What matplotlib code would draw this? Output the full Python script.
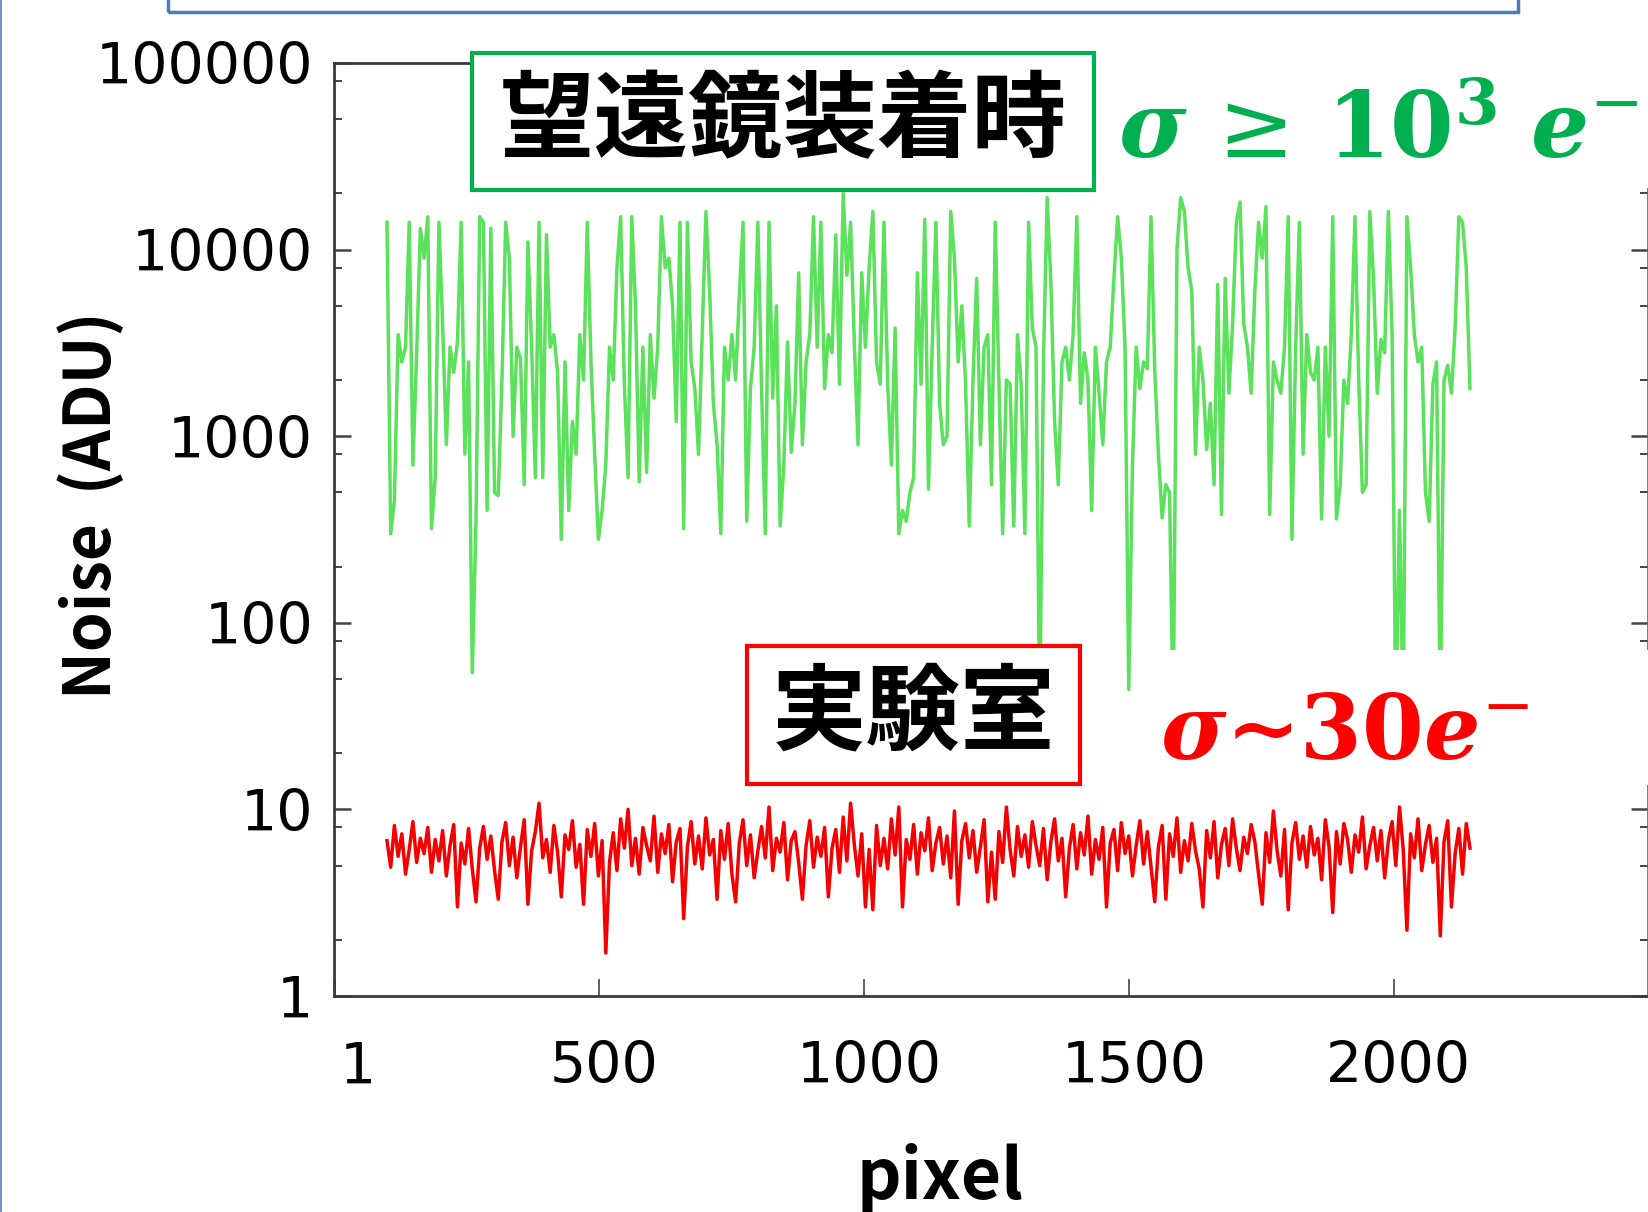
import numpy as np
import matplotlib
matplotlib.use("Agg")
import matplotlib.pyplot as plt
import matplotlib.transforms as mtransforms
from matplotlib.patches import Rectangle
from matplotlib.lines import Line2D
from matplotlib.ticker import FixedLocator, LogLocator, NullFormatter, FuncFormatter

plt.rcParams["mathtext.fontset"] = "dejavuserif"

W, H = 1649, 1212  # output size in pixels


def fx(px):
    return px / W


def fy(py):
    return 1 - py / H


# Data, one value every PIXEL_STEP pixels
PIXEL_START = 100
PIXEL_STEP = 7

telescope_noise = [
    14000, 300, 450, 3500, 2500, 3000, 14000, 700, 2800, 13000,
    9000, 15000, 320, 600, 14000, 4000, 900, 3000, 2200, 3200,
    14000, 800, 2500, 54, 350, 15000, 14000, 400, 13000, 500,
    480, 2000, 14000, 9000, 1000, 3000, 2600, 550, 11000, 3000,
    600, 14000, 600, 12000, 3000, 3500, 2200, 280, 2500, 400,
    1200, 800, 3500, 2000, 14000, 2500, 800, 280, 400,
    700, 3000, 2000, 8000, 15000, 1900, 600, 15000, 5000, 570,
    3000, 640, 3500, 1600, 3000, 15000, 8000, 9000, 5000, 1200,
    14000, 320, 14000, 2500, 1800, 800, 3500, 16000, 6000, 1500,
    900, 300, 3000, 2000, 3500, 2000, 5700, 14000, 350, 1800,
    3000, 14000, 1800, 300, 14000, 1600, 5000, 330, 700, 3200,
    820, 1500, 7500, 900, 2500, 3500, 15000, 3000, 14000, 1800,
    3500, 2800, 12000, 1900, 20000, 7300, 14000, 3200, 900, 7500,
    3000, 8000, 16000, 2500, 1900, 14000, 1900, 700, 3800, 300,
    400, 350, 500, 600, 7500, 1900, 14500, 520, 3000, 14000,
    1500, 900, 1000, 16000, 9000, 2500, 5000, 1900, 330, 2000,
    7000, 900, 3000, 3500, 550, 14000, 1900, 300, 2000, 1900,
    330, 3500, 1900, 300, 14000, 3800, 3000, 30, 2500,
    19000, 6700, 1200, 550, 2500, 3000, 2000, 3500, 15000, 1500,
    2800, 2000, 400, 3000, 1700, 900, 2500, 3000, 7000, 15000,
    9000, 3000, 44, 700, 3000, 1800, 2500, 2300, 15000, 2300,
    800, 365, 550, 500, 30, 10000, 19000, 16000, 8000, 6000,
    800, 3000, 2000, 850, 1500, 550, 6500, 380, 7000, 1700,
    4000, 14000, 18000, 4000, 3000, 1700, 6000, 14000, 9000, 17000,
    380, 2500, 2000, 1700, 3000, 15000, 280, 3000, 14000, 800,
    3500, 2200, 2000, 3000, 360, 3000, 1000, 15000, 360, 550,
    2000, 1500, 3500, 15000, 2000, 500, 550, 16000, 7000, 1700,
    3300, 2800, 16000, 3500, 30, 400, 30, 15000, 8000, 3500,
    2500, 3000, 500, 350, 1900, 2500, 30, 2000, 2400, 1700,
    3800, 15000, 14000, 8000, 1800,
]

lab_noise = [
    6.8, 4.9, 8.2, 5.6, 7.4, 4.5, 6.1, 8.6, 5.2, 7.0,
    5.8, 8.0, 4.6, 6.9, 5.3, 7.7, 4.4, 6.4, 8.3, 3.0,
    6.6, 5.1, 7.9, 4.8, 3.2, 6.2, 8.1, 5.4, 7.2, 4.7,
    3.3, 6.7, 8.5, 5.0, 7.1, 4.3, 6.3, 8.8, 3.1, 6.0,
    7.6, 10.8, 5.5, 6.9, 4.6, 8.2, 5.9, 3.4, 7.3, 6.1,
    8.7, 4.9, 6.5, 3.1, 7.8, 5.6, 8.4, 4.4, 6.8, 1.7,
    5.2, 7.5, 4.7, 8.9, 6.2, 10.0, 5.0, 7.0, 4.5, 8.0,
    6.4, 5.3, 9.2, 4.6, 7.4, 5.8, 8.3, 4.1, 6.7, 7.9,
    2.6, 6.3, 8.6, 5.1, 7.2, 4.8, 9.0, 5.7, 6.9, 3.3,
    7.7, 5.4, 8.4, 4.5, 3.2, 6.6, 8.8, 5.0, 7.3, 4.3,
    6.0, 8.1, 5.5, 10.3, 4.7, 7.0, 5.9, 8.5, 4.2, 6.8,
    7.6, 5.2, 3.3, 6.4, 8.7, 4.9, 7.1, 5.6, 8.0, 3.4,
    6.2, 7.8, 4.6, 9.1, 5.3, 10.8, 6.5, 4.4, 7.4, 3.0,
    6.1, 2.9, 8.2, 5.0, 7.0, 4.8, 8.9, 5.7, 10.3, 3.0,
    6.9, 5.4, 8.3, 4.5, 7.5, 6.0, 9.0, 4.7, 6.6, 8.0,
    5.1, 7.2, 4.3, 9.8, 3.1, 6.8, 8.4, 5.5, 7.7, 4.6,
    6.3, 8.8, 3.2, 5.9, 3.3, 7.6, 5.2, 10.3, 6.1, 4.4,
    8.1, 5.6, 7.3, 4.9, 8.6, 6.4, 5.0, 7.9, 4.2, 6.7,
    8.9, 5.3, 7.0, 3.4, 6.2, 8.3, 4.8, 7.5, 5.7, 9.2,
    4.5, 6.9, 5.4, 8.0, 3.0, 6.6, 7.8, 4.7, 8.5, 5.8,
    7.2, 4.4, 6.4, 8.7, 5.1, 7.6, 4.9, 3.2, 6.3, 8.2,
    3.3, 7.4, 5.6, 9.0, 4.6, 6.8, 5.3, 8.4, 6.0, 4.8,
    3.0, 7.7, 5.5, 8.6, 4.3, 6.5, 7.9, 5.0, 8.9, 6.2,
    4.7, 7.1, 5.8, 8.3, 6.7, 4.5, 3.1, 7.5, 5.2, 9.8,
    6.0, 4.4, 7.8, 2.9, 6.6, 8.5, 5.4, 7.2, 4.9, 8.1,
    5.7, 7.0, 4.2, 8.8, 6.3, 2.8, 7.6, 5.1, 8.4, 6.9,
    4.6, 7.3, 5.9, 9.1, 4.8, 6.4, 8.0, 5.3, 7.7, 4.3,
    6.8, 8.6, 5.0, 10.3, 6.1, 2.25, 7.4, 5.5, 8.9, 4.7,
    6.5, 8.2, 5.2, 7.0, 2.1, 6.7, 8.7, 3.0, 5.8, 7.9,
    4.5, 8.4, 6.2,
]

x_ticks = [1, 500, 1000, 1500, 2000]
y_ticks = [1, 10, 100, 1000, 10000, 100000]

label_tel = "望遠鏡装着時"
label_lab = "実験室"
sigma_tel = r"$\mathbfit{\sigma}\,\geq\,\mathbf{10}^{\mathbf{3}}\ \mathbfit{e}^{-}$"
sigma_lab = r"$\mathbfit{\sigma}$∼$\mathbf{30}\mathbfit{e}^{-}$"

GREEN = "#00b050"
RED = "#ff0000"
CJK = ["Noto Sans CJK JP", "DejaVu Sans"]

x_tel = PIXEL_START + PIXEL_STEP * np.arange(len(telescope_noise))
x_lab = PIXEL_START + PIXEL_STEP * np.arange(len(lab_noise))

fig = plt.figure(figsize=(W / 100, H / 100), dpi=100)
ax = fig.add_axes([fx(334), fy(996), fx(1648) - fx(334), fy(63) - fy(996)])

ax.plot(x_tel, telescope_noise, color="#3edc3e", lw=2.5, alpha=0.85, zorder=2)
ax.plot(x_lab, lab_noise, color="#f50000", lw=2.5, zorder=2)

ax.set_yscale("log")
ax.set_xlim(0, 2480)
ax.set_ylim(1, 100000)

ax.xaxis.set_major_locator(FixedLocator(x_ticks))
ax.yaxis.set_major_locator(FixedLocator(y_ticks))
ax.yaxis.set_minor_locator(LogLocator(base=10, subs=(2, 5, 8)))
ax.yaxis.set_minor_formatter(NullFormatter())
ax.yaxis.set_major_formatter(FuncFormatter(lambda v, p: f"{int(round(v))}"))

ax.tick_params(axis="both", which="both", direction="in", colors="#444444",
               labelcolor="black", labelsize=41)
ax.tick_params(axis="y", which="major", length=12, width=1.8, right=True, pad=15)
ax.tick_params(axis="y", which="minor", length=6, width=1.4, right=True)
ax.tick_params(axis="x", which="major", length=12, width=1.2, pad=32)
for lab in ax.get_xticklabels() + ax.get_yticklabels():
    lab.set_fontfamily("DejaVu Sans")

# the tick labels sit a little to the right of their ticks
for i, lab in enumerate(ax.xaxis.get_majorticklabels()):
    shift = 0.23 if i == 0 else 0.05
    lab.set_transform(lab.get_transform()
                      + mtransforms.ScaledTranslation(shift, 0, fig.dpi_scale_trans))

for side in ["left", "bottom", "top"]:
    ax.spines[side].set_color("#3a3a3a")
    ax.spines[side].set_linewidth(2.0)
ax.spines["right"].set_color("#666666")
ax.spines["right"].set_linewidth(1.2)

# axis titles
fig.text(fx(92), fy(505), "Noise  (ADU)", rotation=90, ha="center", va="center",
         fontsize=46, fontweight="bold", family=CJK)
fig.text(fx(940), fy(1199), "pixel", ha="center", va="baseline",
         fontsize=50, fontweight="bold", family=CJK)

# white patches that hide parts of the plot behind the annotations
fig.add_artist(Rectangle((fx(1094), fy(188)), fx(1649) - fx(1094), fy(30) - fy(188),
                         transform=fig.transFigure, facecolor="white",
                         edgecolor="none", zorder=3))
fig.add_artist(Rectangle((fx(1150), fy(785)), fx(1649) - fx(1150), fy(650) - fy(785),
                         transform=fig.transFigure, facecolor="white",
                         edgecolor="none", zorder=3))

# labelled boxes
fig.add_artist(Rectangle((fx(472), fy(190)), fx(1094) - fx(472), fy(53) - fy(190),
                         transform=fig.transFigure, facecolor="white",
                         edgecolor=GREEN, lw=3, zorder=4))
fig.text(fx(783), fy(122), label_tel, ha="center", va="center", fontsize=68,
         fontweight="bold", family=CJK, zorder=5)
fig.add_artist(Rectangle((fx(747), fy(784)), fx(1080) - fx(747), fy(646) - fy(784),
                         transform=fig.transFigure, facecolor="white",
                         edgecolor=RED, lw=3, zorder=4))
fig.text(fx(914), fy(715), label_lab, ha="center", va="center", fontsize=68,
         fontweight="bold", family=CJK, zorder=5)

fig.text(fx(1118), fy(158), sigma_tel, ha="left", va="baseline", fontsize=66,
         color=GREEN, zorder=5)
fig.text(fx(1160), fy(759), sigma_lab, ha="left", va="baseline", fontsize=64,
         color=RED, fontweight="bold", family=["DejaVu Serif"], zorder=5)

# slide decorations: blue frame at the top and the blue line on the left edge
fig.add_artist(Rectangle((fx(168), fy(12)), fx(1518) - fx(168), fy(-30) - fy(12),
                         transform=fig.transFigure, facecolor="none",
                         edgecolor="#4a7ebb", lw=2.5, zorder=5))
fig.add_artist(Line2D([fx(1), fx(1)], [0, 1], transform=fig.transFigure,
                      color="#4f81bd", lw=1.2, zorder=5))

fig.savefig("out.png", dpi=100)
